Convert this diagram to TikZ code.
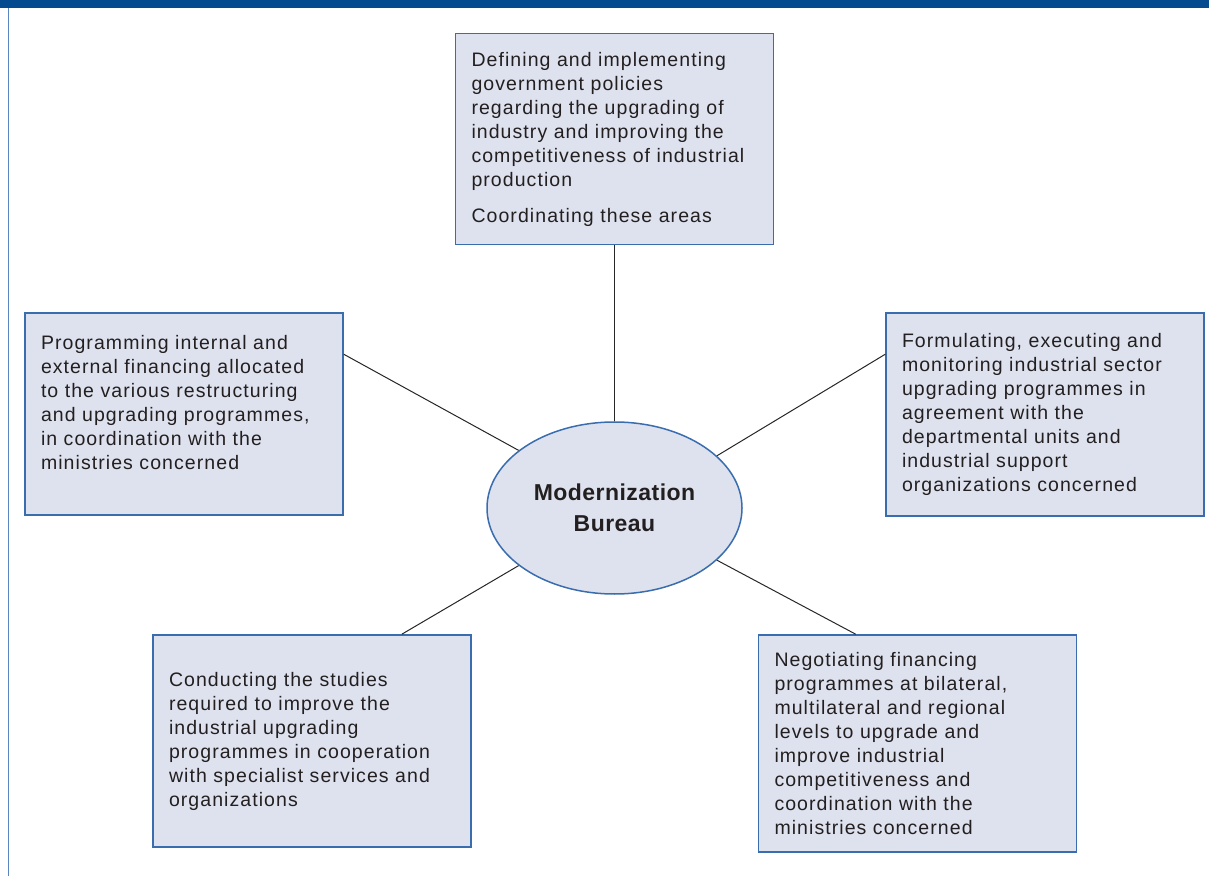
\documentclass[tikz,border=0pt]{standalone}
\usepackage{fontspec}
\setmainfont{Liberation Sans}[LetterSpace=5.5,WordSpace=1.25]
\newfontfamily\bureaufont{Liberation Sans}[LetterSpace=2]
\usepackage{xcolor}
\usepackage{tikz}
\usetikzlibrary{shapes.geometric,positioning}
\definecolor{barblue}{HTML}{034A8F}
\definecolor{sideblue}{HTML}{5A86BF}
\definecolor{edgeblue}{HTML}{3A6DAE}
\definecolor{boxfill}{HTML}{DEE2EE}
\definecolor{txtgray}{HTML}{231F20}

\begin{document}
\begin{tikzpicture}[x=0.5pt,y=-0.5pt,
      every node/.style={align=left,text=txtgray,font=\fontsize{9.75pt}{12pt}\selectfont},
      task/.style={draw=edgeblue,line width=0.75pt,fill=boxfill,
        text width=143pt,inner xsep=8pt},
      bureau/.style={ellipse,draw=edgeblue,line width=0.75pt,fill=boxfill,
        minimum width=127.5pt,minimum height=86pt,align=center,
        font=\bureaufont\bfseries\fontsize{11.5pt}{15.5pt}\selectfont},
      link/.style={draw=black!85,line width=0.5pt}]
    \useasboundingbox (0,0) rectangle (1209,876);
    \fill[barblue] (0,0) rectangle (1209,8);
    \draw[sideblue,line width=0.75pt] (8.5,8) -- (8.5,876);
    \node[bureau] (mb) at (614.5,508) {Modernization\\Bureau};
    \node[task,minimum height=105.5pt,above=88pt of mb] (tb)
      {Defining and implementing\\government policies\\regarding the upgrading of\\
       industry and improving the\\competitiveness of industrial\\production\\[6pt]
       Coordinating these areas};
    \node[task,minimum height=101pt] (lb) at (184,414)
      {Programming internal and\\external financing allocated\\to the various restructuring\\
       and upgrading programmes,\\in coordination with the\\ministries concerned\\\mbox{}};
    \node[task,minimum height=101.5pt] (rb) at (1045,414.5)
      {Formulating, executing and\\monitoring industrial sector\\upgrading programmes in\\
       agreement with the\\departmental units and\\industrial support\\organizations concerned};
    \node[task,minimum height=106pt] (blb) at (312,741)
      {Conducting the studies\\required to improve the\\industrial upgrading\\
       programmes in cooperation\\with specialist services and\\organizations};
    \node[task,minimum height=108.5pt] (brb) at (917.5,743.5)
      {Negotiating financing\\programmes at bilateral,\\multilateral and regional\\
       levels to upgrade and\\improve industrial\\competitiveness and\\
       coordination with the\\ministries concerned};
    \draw[link] (tb.south) -- (mb.north);
    \draw[link] ([yshift=-21pt]lb.north east) -- (mb.149);
    \draw[link] ([yshift=-21pt]rb.north west) -- (mb.27.5);
    \draw[link] ([xshift=-35pt]blb.north east) -- (mb.211.6);
    \draw[link] ([xshift=49pt]brb.north west) -- (mb.333);
  \end{tikzpicture}
\end{document}
